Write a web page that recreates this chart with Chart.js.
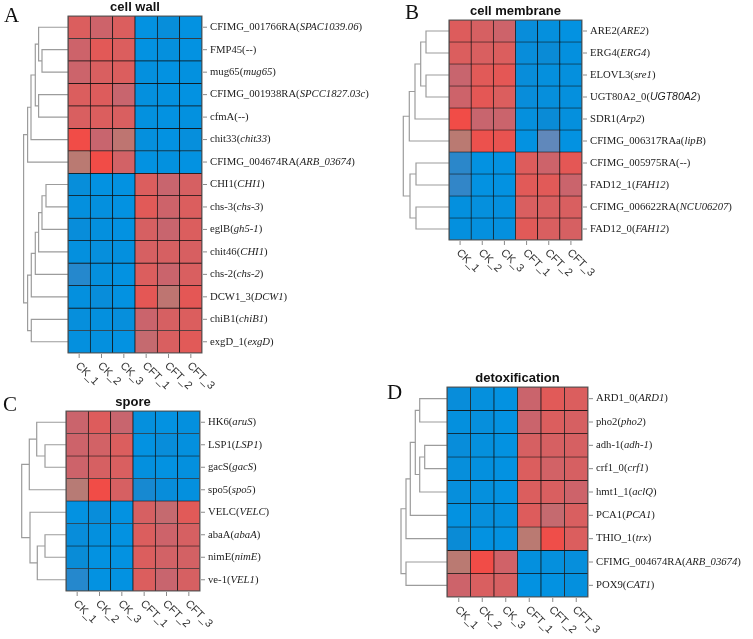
<!DOCTYPE html>
<html>
<head>
<meta charset="utf-8">
<script src="https://cdn.jsdelivr.net/npm/chart.js@4.4.1/dist/chart.umd.min.js"></script>
<style>
  body { margin: 0; background: #fff; }
  #wrap { position: relative; width: 753px; height: 639px; }
  #wrap canvas { position: absolute; left: 0; top: 0; }
</style>
</head>
<body>
<div id="wrap">
  <canvas id="cellWall" width="753" height="639"></canvas>
  <canvas id="cellMembrane" width="753" height="639"></canvas>
  <canvas id="spore" width="753" height="639"></canvas>
  <canvas id="detox" width="753" height="639"></canvas>
</div>
<script>
const samples = ['CK_1', 'CK_2', 'CK_3', 'CFT_1', 'CFT_2', 'CFT_3'];

// gene id + (homolog symbol); values are row-scaled expression, -1 blue .. 1 red
// trees: [left, right, height], negative = leaf row (-1 is first row), positive = earlier merge
const wallGenes = [
  ['CFIMG_001766RA', 'SPAC1039.06'], ['FMP45', '--'], ['mug65', 'mug65'],
  ['CFIMG_001938RA', 'SPCC1827.03c'], ['cfmA', '--'], ['chit33', 'chit33'],
  ['CFIMG_004674RA', 'ARB_03674'], ['CHI1', 'CHI1'], ['chs-3', 'chs-3'],
  ['eglB', 'gh5-1'], ['chit46', 'CHI1'], ['chs-2', 'chs-2'],
  ['DCW1_3', 'DCW1'], ['chiB1', 'chiB1'], ['exgD_1', 'exgD']
];
const wallValues = [
  [0.80, 0.65, 0.80, -0.95, -0.86, -0.95],
  [0.65, 0.86, 0.80, -0.95, -0.90, -0.95],
  [0.64, 0.78, 0.80, -0.92, -0.95, -0.93],
  [0.80, 0.82, 0.60, -0.92, -0.93, -0.95],
  [0.78, 0.80, 0.78, -0.93, -0.95, -0.93],
  [1.00, 0.60, 0.45, -0.90, -0.95, -0.88],
  [0.40, 1.00, 0.70, -0.95, -0.93, -0.95],
  [-0.86, -0.95, -0.95, 0.80, 0.60, 0.75],
  [-0.92, -0.92, -0.95, 0.85, 0.65, 0.80],
  [-0.85, -0.92, -0.95, 0.75, 0.60, 0.80],
  [-0.92, -0.88, -0.92, 0.75, 0.75, 0.76],
  [-0.60, -0.90, -0.95, 0.80, 0.62, 0.78],
  [-0.92, -0.85, -0.95, 0.88, 0.45, 0.88],
  [-0.88, -0.92, -0.88, 0.62, 0.75, 0.80],
  [-0.92, -0.92, -0.95, 0.55, 0.78, 0.85]
];
const wallTree = [
  [-2, -3, 26], [-1, 1, 29.4], [-4, -5, 29.4], [2, 3, 32.7], [4, -6, 37], [5, -7, 40.4],
  [-8, -9, 22], [7, -10, 26], [8, -11, 29.4], [9, -12, 32.7], [10, -13, 36.7],
  [-14, -15, 36.7], [11, 12, 40.4], [6, 13, 44.4]
];

const memGenes = [
  ['ARE2', 'ARE2'], ['ERG4', 'ERG4'], ['ELOVL3', 'sre1'], ['UGT80A2_0', 'UGT80A2'],
  ['SDR1', 'Arp2'], ['CFIMG_006317RAa', 'lipB'], ['CFIMG_005975RA', '--'],
  ['FAD12_1', 'FAH12'], ['CFIMG_006622RA', 'NCU06207'], ['FAD12_0', 'FAH12']
];
const memValues = [
  [0.82, 0.75, 0.65, -0.85, -0.90, -0.95],
  [0.80, 0.78, 0.80, -0.85, -0.80, -0.92],
  [0.60, 0.85, 0.88, -0.85, -0.90, -0.90],
  [0.65, 0.88, 0.80, -0.85, -0.88, -0.90],
  [1.00, 0.60, 0.62, -0.90, -0.80, -0.90],
  [0.40, 0.95, 0.92, -0.95, -0.30, -0.95],
  [-0.55, -0.95, -0.95, 0.82, 0.65, 0.88],
  [-0.50, -0.95, -0.95, 0.85, 0.85, 0.62],
  [-0.92, -0.90, -0.92, 0.78, 0.78, 0.78],
  [-0.92, -0.92, -0.92, 0.85, 0.78, 0.75]
];
const memTree = [
  [-1, -2, 23], [-3, -4, 23], [1, 2, 28.3], [3, -5, 34], [4, -6, 39.7],
  [-7, -8, 33], [-9, -10, 33], [6, 7, 39], [5, 8, 45.7]
];

const sporeGenes = [
  ['HK6', 'aruS'], ['LSP1', 'LSP1'], ['gacS', 'gacS'], ['spo5', 'spo5'],
  ['VELC', 'VELC'], ['abaA', 'abaA'], ['nimE', 'nimE'], ['ve-1', 'VEL1']
];
const sporeValues = [
  [0.62, 0.82, 0.60, -0.90, -0.95, -0.92],
  [0.65, 0.70, 0.80, -0.95, -0.85, -0.92],
  [0.65, 0.75, 0.78, -0.92, -0.95, -0.92],
  [0.35, 1.00, 0.75, -0.70, -0.85, -0.92],
  [-0.95, -0.85, -0.95, 0.75, 0.55, 0.85],
  [-0.85, -0.92, -0.95, 0.80, 0.65, 0.75],
  [-0.82, -0.95, -0.95, 0.80, 0.70, 0.72],
  [-0.60, -0.95, -0.95, 0.80, 0.60, 0.75]
];
const sporeTree = [
  [-2, -3, 21], [-1, 1, 29.3], [2, -4, 36.7], [-6, -7, 21], [4, -8, 28.7],
  [-5, 5, 36], [3, 6, 44.3]
];

const detoxGenes = [
  ['ARD1_0', 'ARD1'], ['pho2', 'pho2'], ['adh-1', 'adh-1'], ['crf1_0', 'crf1'],
  ['hmt1_1', 'aclQ'], ['PCA1', 'PCA1'], ['THIO_1', 'trx'],
  ['CFIMG_004674RA', 'ARB_03674'], ['POX9', 'CAT1']
];
const detoxValues = [
  [-0.85, -0.90, -0.95, 0.62, 0.85, 0.80],
  [-0.92, -0.88, -0.95, 0.62, 0.80, 0.75],
  [-0.85, -0.90, -0.95, 0.75, 0.75, 0.75],
  [-0.88, -0.92, -0.95, 0.80, 0.70, 0.75],
  [-0.88, -0.90, -0.95, 0.80, 0.78, 0.65],
  [-0.95, -0.88, -0.92, 0.82, 0.55, 0.78],
  [-0.80, -0.95, -0.95, 0.40, 0.98, 0.80],
  [0.40, 1.00, 0.68, -0.92, -0.90, -0.88],
  [0.65, 0.78, 0.75, -0.95, -0.95, -0.92]
];
const detoxTree = [
  [-1, -2, 27.3], [-3, -4, 22.3], [2, -5, 27.3], [1, 3, 31.7], [4, -6, 36.7],
  [5, -7, 41], [-8, -9, 41], [6, 7, 46]
];

// layout: heatmap box [left, top, right, bottom] in page px, letter anchor
const panels = [
  { canvas: 'cellWall', letter: 'A', title: 'cell wall', genes: wallGenes, values: wallValues, tree: wallTree,
    box: [68, 16, 202, 353], letterAt: [4, 16] },
  { canvas: 'cellMembrane', letter: 'B', title: 'cell membrane', genes: memGenes, values: memValues, tree: memTree,
    box: [449, 20, 582, 240], letterAt: [405, 13] },
  { canvas: 'spore', letter: 'C', title: 'spore', genes: sporeGenes, values: sporeValues, tree: sporeTree,
    box: [66, 411, 200, 591], letterAt: [3, 405] },
  { canvas: 'detox', letter: 'D', title: 'detoxification', genes: detoxGenes, values: detoxValues, tree: detoxTree,
    box: [447, 387, 588, 597], letterAt: [387, 393] }
];

const PALETTE = [
  [-1.0, [0, 148, 228]], [-0.8, [10, 139, 214]], [-0.5, [50, 134, 200]], [-0.25, [108, 136, 184]],
  [0.0, [160, 128, 140]], [0.4, [186, 122, 114]], [0.6, [200, 101, 110]], [0.8, [219, 94, 94]],
  [1.0, [241, 76, 71]]
];
function heatColor(v) {
  for (let i = 1; i < PALETTE.length; i++) {
    const [v1, c1] = PALETTE[i];
    if (v <= v1 || i === PALETTE.length - 1) {
      const [v0, c0] = PALETTE[i - 1];
      const t = Math.max(0, Math.min(1, (v - v0) / (v1 - v0)));
      const c = c0.map((a, k) => Math.round(a + (c1[k] - a) * t));
      return 'rgb(' + c.join(',') + ')';
    }
  }
}

const SERIF = '"Liberation Serif", "Times New Roman", serif';
const SANS = '"Liberation Sans", Arial, sans-serif';
const SANS_ITALIC = new Set(['UGT80A2']);

const heatDecor = {
  id: 'heatDecor',
  afterDatasetsDraw(chart, args, opts) {
    const { ctx } = chart;
    const x = chart.scales.x, y = chart.scales.y;
    const n = opts.genes.length;
    const left = x.getPixelForValue(0), right = x.getPixelForValue(samples.length);
    const top = y.getPixelForValue(0), bottom = y.getPixelForValue(n);
    ctx.save();
    ctx.strokeStyle = '#5a5a5a';
    ctx.lineWidth = 1;
    ctx.strokeRect(left, top, right - left, bottom - top);

    ctx.strokeStyle = '#8a8a8a';
    ctx.beginPath();
    for (let i = 0; i < n; i++) {
      const py = y.getPixelForValue(i + 0.5);
      ctx.moveTo(right + 1, py); ctx.lineTo(right + 5, py);
    }
    samples.forEach((s, i) => {
      const px = x.getPixelForValue(i + 0.5);
      ctx.moveTo(px, bottom + 1); ctx.lineTo(px, bottom + 5);
    });
    ctx.stroke();

    ctx.fillStyle = '#222';
    ctx.textAlign = 'left';
    ctx.textBaseline = 'middle';
    opts.genes.forEach(([name, sym], i) => {
      let px = right + 8;
      const py = y.getPixelForValue(i + 0.5);
      let symFont = 'italic 10.7px ' + SERIF;
      if (sym === '--') symFont = '10.7px ' + SERIF;
      if (SANS_ITALIC.has(sym)) symFont = 'italic 10.5px ' + SANS;
      [[name + '(', '10.7px ' + SERIF], [sym, symFont], [')', '10.7px ' + SERIF]].forEach(([t, f]) => {
        ctx.font = f;
        ctx.fillText(t, px, py);
        px += ctx.measureText(t).width;
      });
    });

    ctx.fillStyle = '#333';
    ctx.font = '11px ' + SANS;
    samples.forEach((s, i) => {
      const px = x.getPixelForValue(i + 0.5);
      ctx.save();
      ctx.translate(px - 2, bottom + 11);
      ctx.rotate(Math.PI / 4);
      ctx.fillText(s, 0, 0);
      ctx.restore();
    });

    ctx.fillStyle = '#111';
    ctx.font = 'bold 13px ' + SANS;
    ctx.textAlign = 'center';
    ctx.fillText(opts.title, (left + right) / 2, top - 9);

    ctx.font = '21px ' + SERIF;
    ctx.textAlign = 'left';
    ctx.fillText(opts.letter, opts.letterAt[0], opts.letterAt[1]);
    ctx.restore();
  }
};

function treeLinks(tree) {
  const nodes = [];
  const node = ref => ref < 0 ? { y: -ref - 0.5, h: 0 } : nodes[ref - 1];
  return tree.map(([a, b, h]) => {
    const na = node(a), nb = node(b);
    nodes.push({ y: (na.y + nb.y) / 2, h });
    return [na, nb, h];
  });
}

panels.forEach(p => {
  const [L, T, R, B] = p.box;
  const colW = (R - L) / samples.length;
  const hx = h => -h / colW;
  const maxH = Math.max(...p.tree.map(m => m[2]));
  const xMin = hx(maxH) - 0.08;

  const cells = p.values.map((row, r) => ({
    type: 'bar',
    data: row.map((v, c) => ({ x: c + 0.5, y: [r, r + 1] })),
    backgroundColor: row.map(heatColor),
    borderColor: '#111',
    borderWidth: 0.7,
    borderSkipped: false,
    barPercentage: 1,
    categoryPercentage: 1,
    grouped: false
  }));

  const links = treeLinks(p.tree).map(([na, nb, h]) => ({
    type: 'line',
    data: [
      { x: hx(na.h), y: na.y }, { x: hx(h), y: na.y },
      { x: hx(h), y: nb.y }, { x: hx(nb.h), y: nb.y }
    ],
    borderColor: '#9c9c9c',
    borderWidth: 1.2,
    pointRadius: 0,
    fill: false,
    tension: 0
  }));

  new Chart(document.getElementById(p.canvas), {
    type: 'bar',
    data: { datasets: cells.concat(links) },
    options: {
      responsive: false,
      animation: false,
      events: [],
      layout: {
        padding: { left: L - (0 - xMin) * colW, top: T, right: 753 - R, bottom: 639 - B }
      },
      scales: {
        x: {
          type: 'linear', display: false, min: xMin, max: samples.length, offset: false,
          grid: { offset: false },
          ticks: { stepSize: 1, includeBounds: false },
          afterBuildTicks: s => { s.ticks = s.ticks.filter(t => Number.isInteger(t.value)); }
        },
        y: { type: 'linear', display: false, min: 0, max: p.genes.length, reverse: true }
      },
      plugins: {
        legend: { display: false },
        tooltip: { enabled: false },
        heatDecor: { genes: p.genes, title: p.title, letter: p.letter, letterAt: p.letterAt }
      }
    },
    plugins: [heatDecor]
  });
});
</script>
</body>
</html>
